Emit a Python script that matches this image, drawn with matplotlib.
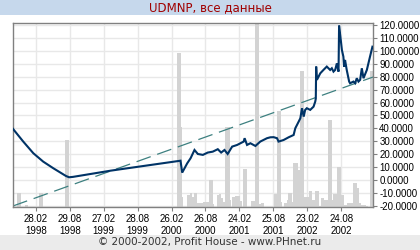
import matplotlib
matplotlib.use("Agg")
import matplotlib.pyplot as plt
import matplotlib.dates as mdates
from matplotlib.patches import Rectangle
import numpy as np

plt.rcParams['font.family'] = ['Liberation Sans Narrow', 'Liberation Sans', 'DejaVu Sans']

title = "UDMNP, все данные"
footer = "© 2000-2002, Profit House - www.PHnet.ru"

price_dates = [
    "1997-10-28", "1997-12-22", "1998-02-14", "1998-04-08", "1998-06-01", "1998-08-08",
    "1998-08-25", "1998-09-15", "1999-04-05", "2000-04-14", "2000-04-23", "2000-05-20",
    "2000-06-07", "2000-06-28", "2000-07-16", "2000-08-12", "2000-09-07", "2000-10-04",
    "2000-10-31", "2000-11-18", "2000-12-06", "2000-12-23", "2001-01-16", "2001-02-12",
    "2001-03-19", "2001-03-24", "2001-04-06", "2001-04-24", "2001-05-21", "2001-06-16",
    "2001-07-22", "2001-08-09", "2001-08-27", "2001-09-14", "2001-09-22", "2001-10-19",
    "2001-11-15", "2001-12-12", "2001-12-21", "2002-01-08", "2002-01-17", "2002-01-26",
    "2002-02-04", "2002-02-12", "2002-02-21", "2002-03-11", "2002-03-29", "2002-04-07",
    "2002-04-10", "2002-04-12", "2002-04-16", "2002-05-04", "2002-05-21", "2002-06-08",
    "2002-06-26", "2002-07-05", "2002-07-14", "2002-07-23", "2002-08-01", "2002-08-10",
    "2002-08-13", "2002-08-22", "2002-08-28", "2002-09-05", "2002-09-09", "2002-09-14",
    "2002-09-23", "2002-10-06", "2002-10-11", "2002-10-29", "2002-11-07", "2002-11-16",
    "2002-11-25", "2002-12-04", "2002-12-13", "2002-12-22", "2003-01-09", "2003-01-26",
    "2003-02-08",
]
price_values = [
    39.6, 29.8, 20.8, 14.3, 9.2, 3.2,
    2.2, 2.5, 7.3, 15.0, 5.8, 13.0,
    16.9, 23.3, 20.2, 19.5, 21.3, 22.0,
    23.9, 21.3, 23.3, 20.2, 25.9, 27.2,
    29.8, 32.4, 27.2, 28.5, 26.4, 29.8,
    32.4, 33.1, 33.2, 32.4, 29.8, 31.0,
    33.1, 34.9, 40.1, 45.2, 47.8, 55.6,
    49.1, 54.3, 55.6, 54.3, 56.8, 60.7,
    63.0, 87.8, 77.5, 82.6, 85.2, 87.8,
    85.2, 86.5, 83.9, 85.2, 90.3, 83.9,
    119.5, 108.4, 100.7, 95.5, 87.8, 92.9,
    85.2, 76.2, 74.9, 76.2, 74.9, 78.8,
    76.2, 77.5, 86.5, 78.8, 85.2, 95.5,
    103.2,
]

trend_dates = ["1997-10-28", "2003-02-11"]
trend_values = [-20.0, 79.7]

vol_start = [
    "1997-11-17", "1997-12-31", "1998-03-16", "1998-08-02", "2000-03-24", "2000-04-14",
    "2000-04-23", "2000-05-20", "2000-06-03", "2000-06-16", "2000-06-28", "2000-07-14",
    "2000-08-10", "2000-08-30", "2000-09-16", "2000-10-04", "2000-10-29", "2000-11-09",
    "2000-11-18", "2000-11-26", "2000-12-09", "2001-01-03", "2001-01-16", "2001-02-03",
    "2001-02-26", "2001-03-16", "2001-04-28", "2001-05-19", "2001-06-09", "2001-06-20",
    "2001-08-27", "2001-09-12", "2001-10-03", "2001-10-23", "2001-11-04", "2001-11-13",
    "2001-12-01", "2001-12-10", "2002-01-06", "2002-01-17", "2002-02-07", "2002-03-02",
    "2002-03-23", "2002-04-07", "2002-04-28", "2002-05-09", "2002-05-26", "2002-06-13",
    "2002-07-05", "2002-07-13", "2002-07-31", "2002-08-24", "2002-09-11", "2002-09-23",
    "2002-10-29", "2002-11-16", "2002-11-30", "2002-12-09", "2003-01-05", "2003-01-26",
]
vol_end = [
    "1997-12-08", "1998-01-16", "1998-04-05", "1998-08-24", "2000-04-14", "2000-04-23",
    "2000-04-30", "2000-06-03", "2000-06-16", "2000-06-28", "2000-07-09", "2000-08-10",
    "2000-08-30", "2000-09-16", "2000-10-04", "2000-10-13", "2000-11-09", "2000-11-18",
    "2000-11-26", "2000-12-09", "2001-01-03", "2001-01-11", "2001-02-03", "2001-02-26",
    "2001-03-12", "2001-04-04", "2001-05-19", "2001-06-09", "2001-06-20", "2001-07-06",
    "2001-09-12", "2001-10-03", "2001-10-12", "2001-11-04", "2001-11-13", "2001-12-01",
    "2001-12-10", "2002-01-06", "2002-01-17", "2002-02-07", "2002-03-02", "2002-03-23",
    "2002-04-07", "2002-04-28", "2002-05-09", "2002-05-26", "2002-06-13", "2002-07-05",
    "2002-07-13", "2002-07-31", "2002-08-24", "2002-09-11", "2002-09-23", "2002-10-29",
    "2002-11-16", "2002-11-30", "2002-12-09", "2003-01-05", "2003-01-17", "2003-02-11",
]
vol_values = [
    7.6, 1.1, 7.6, 36.4, 83.7, 43.5,
    5.4, 6.5, 7.6, 5.4, 7.6, 2.2,
    2.7, 2.7, 14.7, 1.6, 6.5, 7.1,
    4.9, 2.7, 43.5, 3.8, 5.4, 6.0,
    3.3, 20.7, 3.3, 100.0, 1.6, 2.2,
    7.1, 52.2, 2.7, 2.2, 3.8, 7.6,
    2.7, 23.9, 20.1, 73.9, 5.4, 8.7,
    3.8, 8.7, 0.5, 4.9, 3.8, 47.3,
    3.8, 7.1, 21.7, 6.5, 1.1, 2.2,
    13.0, 10.3, 2.2, 1.1, 0.5, 73.9,
]

tick_dates = ["1998-02-28", "1998-08-29", "1999-02-27", "1999-08-28", "2000-02-26",
              "2000-08-26", "2001-02-24", "2001-08-25", "2002-02-23", "2002-08-24"]
tick_labels = ["28.02\n1998", "29.08\n1998", "27.02\n1999", "28.08\n1999", "26.02\n2000",
               "26.08\n2000", "24.02\n2001", "25.08\n2001", "23.02\n2002", "24.08\n2002"]
y_ticks = [-20, -10, 0, 10, 20, 30, 40, 50, 60, 70, 80, 90, 100, 110, 120]
x_range = ["1997-10-28", "2003-02-11"]
y_range = [-20.8, 121.5]


def num(ds):
    return mdates.datestr2num(ds)


fig = plt.figure(figsize=(4.2, 2.5), dpi=100)
fig.patch.set_facecolor("white")
fig.patches.append(Rectangle((0, 1 - 15 / 250), 1, 15 / 250, transform=fig.transFigure,
                             facecolor="#c6d8ec", edgecolor="none", zorder=0))
fig.patches.append(Rectangle((0, 0), 1, 15 / 250, transform=fig.transFigure,
                             facecolor="#ebebeb", edgecolor="none", zorder=0))
fig.text(0.5, 1 - 8 / 250, title, ha="center", va="center", color="#a00000",
         fontsize=8.5, family=["DejaVu Sans"])
fig.text(0.5, 7.5 / 250, footer, ha="center", va="center", color="#333333",
         fontsize=7.5, family=["DejaVu Sans"])

ax = fig.add_axes([13 / 420, 1 - 207 / 250, 360 / 420, 184 / 250])
ax.set_facecolor("white")
ax.set_axisbelow(True)

vs = num(vol_start)
ve = num(vol_end)
ax.bar(vs, np.array(vol_values) / 100.0, width=ve - vs, align="edge", bottom=0,
       color="#d3d3d3", edgecolor="none", transform=ax.get_xaxis_transform(), zorder=1)

ax.plot(num(trend_dates), trend_values, color="#3d8080", lw=0.9, zorder=2,
        dashes=(12, 5.5))
ax.plot(num(price_dates), price_values, color="#003366", lw=1.5, zorder=3,
        solid_joinstyle="miter")

ax.set_xlim(num(x_range))
ax.set_ylim(y_range)
ax.set_xticks(num(tick_dates))
ax.set_xticklabels(tick_labels)
ax.set_yticks(y_ticks)
ax.set_yticklabels([f"{v:.4f}" for v in y_ticks])
ax.yaxis.tick_right()
ax.grid(True, color="#e8e8e8", lw=1.0)
ax.tick_params(axis="both", colors="#808080", labelcolor="black", labelsize=7,
               length=3, width=0.8, direction="out", pad=1.5)
ax.tick_params(axis="x", pad=2, labelsize=7)
for s in ax.spines.values():
    s.set_color("#808080")
    s.set_linewidth(1.0)

fig.savefig("out.png", dpi=100)
